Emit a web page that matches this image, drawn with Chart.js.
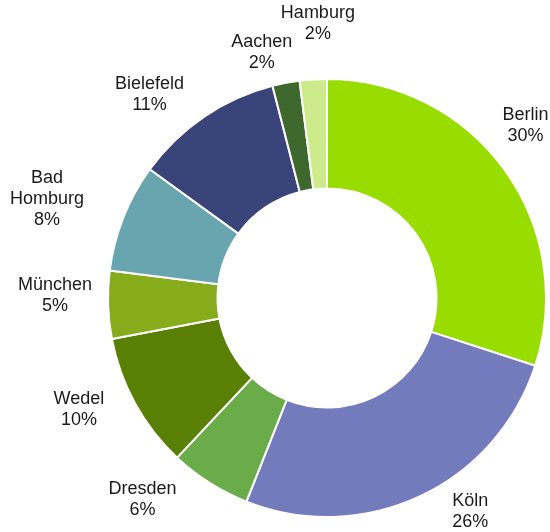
<!DOCTYPE html>
<html>
<head>
<meta charset="utf-8">
<script src="https://cdn.jsdelivr.net/npm/chart.js@4"></script>
<style>
  html, body { margin: 0; padding: 0; background: #fff; }
  #wrap { width: 550px; height: 532px; }
</style>
</head>
<body>
<div id="wrap"><canvas id="chart"></canvas></div>
<script>
// Anteile nach Standort (%)
const cities = ['Berlin', 'Köln', 'Dresden', 'Wedel', 'München', 'Bad Homburg', 'Bielefeld', 'Aachen', 'Hamburg'];
const shares = [30, 26, 6, 10, 5, 8, 11, 2, 2];
const sliceColors = ['#99dd00', '#737bbd', '#6aab4a', '#5a7f05', '#86ac1c', '#68a5af', '#3b4479', '#3f682e', '#cdeb8b'];

// labels outside the ring: name (split on space) + percent
// per-slice nudge: angle shift in degrees, extra distance past the ring
const outerLabels = {
    id: 'outerLabels',
    afterDatasetsDraw(chart, args, opts) {
        const ctx = chart.ctx;
        const meta = chart.getDatasetMeta(0);
        const nudge = opts.nudge || [];
        ctx.save();
        ctx.font = '18px "Liberation Sans", Arial, sans-serif';
        ctx.fillStyle = '#1a1a1a';
        ctx.textAlign = 'center';
        ctx.textBaseline = 'middle';
        const lineH = 21;
        meta.data.forEach((arc, i) => {
            const n = nudge[i] || { a: 0, d: 48 };
            const mid = (arc.startAngle + arc.endAngle) / 2 + n.a * Math.PI / 180;
            const r = arc.outerRadius + n.d;
            const lines = cities[i].split(' ').concat([shares[i] + '%']);
            const x = arc.x + Math.cos(mid) * r;
            const y = arc.y + Math.sin(mid) * r;
            const top = y - (lines.length - 1) * lineH / 2;
            lines.forEach((l, k) => ctx.fillText(l, x, top + k * lineH));
        });
        ctx.restore();
    }
};

const ctx = document.getElementById('chart').getContext('2d');
const chart = new Chart(ctx, {
    type: 'doughnut',
    data: {
        labels: cities,
        datasets: [{
            data: shares,
            backgroundColor: sliceColors,
            borderColor: '#ffffff',
            borderWidth: 2
        }]
    },
    options: {
        responsive: true,
        maintainAspectRatio: false,
        animation: false,
        cutout: '50%',
        layout: { padding: { left: 107, right: 3, top: 78, bottom: 14 } },
        plugins: {
            legend: { display: false },
            tooltip: { enabled: false },
            outerLabels: {
                nudge: [
                    { a: -5, d: 44 },
                    { a: -8.7, d: 38 },
                    { a: 10.1, d: 54 },
                    { a: 4.6, d: 53 },
                    { a: 2.4, d: 53 },
                    { a: -2.1, d: 78 },
                    { a: -6.9, d: 51 },
                    { a: -4.1, d: 35 },
                    { a: 1.7, d: 56 }
                ]
            }
        }
    },
    plugins: [outerLabels]
});
</script>
</body>
</html>
